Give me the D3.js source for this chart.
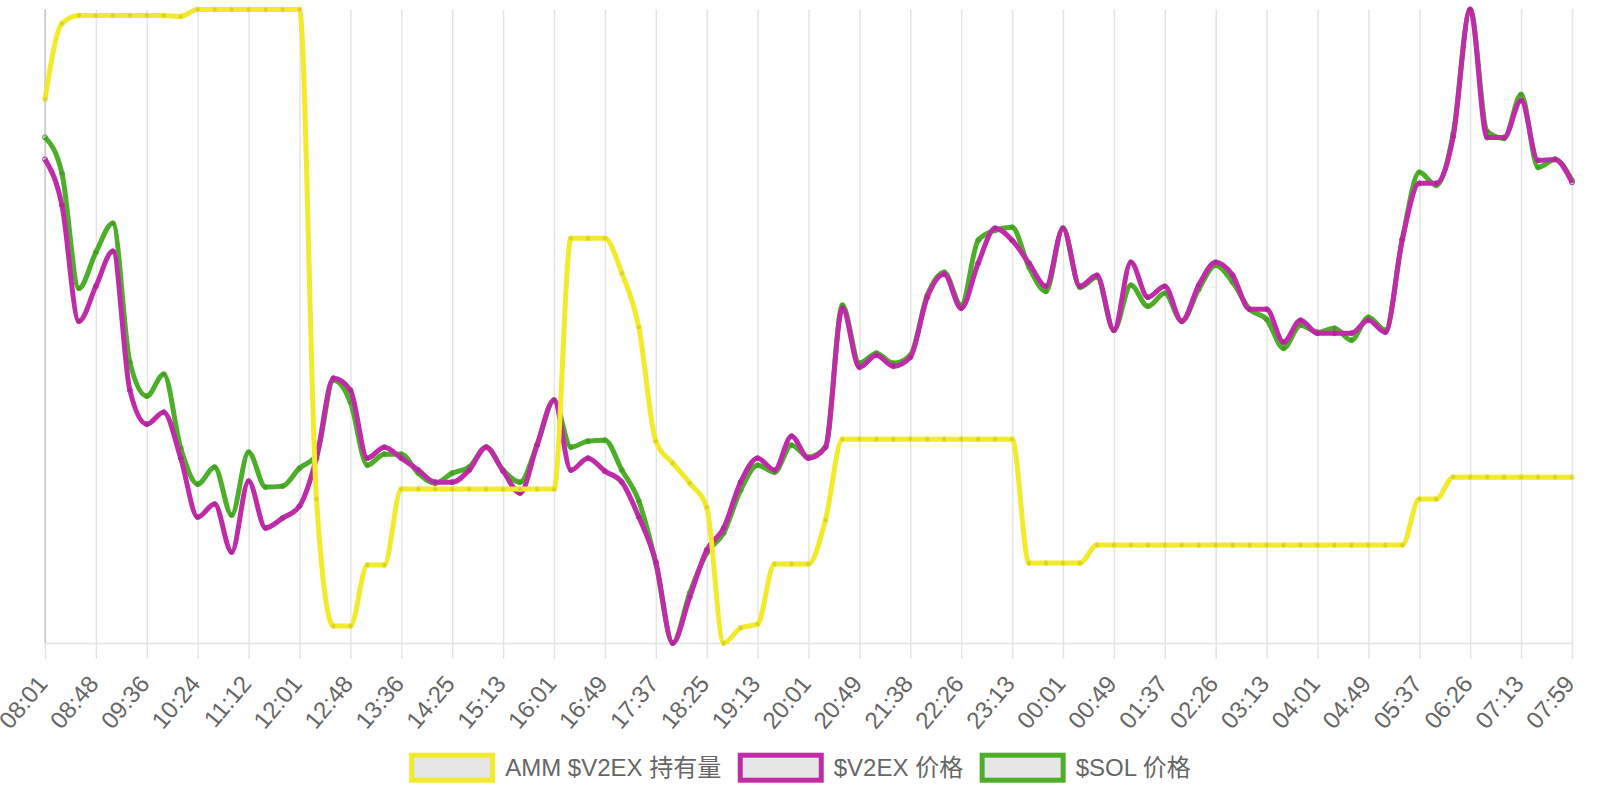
<!DOCTYPE html>
<html><head><meta charset="utf-8">
<script src="https://cdn.jsdelivr.net/npm/d3@7"></script>
<style>
html,body{margin:0;padding:0;background:#fff;}
svg{display:block;font-family:"Liberation Sans",Arial,"Noto Sans CJK SC",sans-serif;}
</style></head><body>
<svg id="chart" width="1600" height="800"></svg>
<script>
// ---- data ----
const tickLabels = ["08:01","08:48","09:36","10:24","11:12","12:01","12:48","13:36","14:25","15:13","16:01","16:49","17:37","18:25","19:13","20:01","20:49","21:38","22:26","23:13","00:01","00:49","01:37","02:26","03:13","04:01","04:49","05:37","06:26","07:13","07:59"];
const seriesNames = ["AMM $V2EX 持有量", "$V2EX 价格", "$SOL 价格"];
const seriesColors = ["#f2ea2b", "#c02ca8", "#4cae29"];

const ammHoldings = [544,620,628,628,628,628,628,628,627,
  634,634,634,634,634,634,634,
  144,17,17,78,78,
  154,154,154,154,154,154,154,154,154,154,
  405,405,405,370,316,202,180,160,136,0,15,19,
  79,79,79,123,
  204,204,204,204,204,204,204,204,204,204,204,
  80,80,80,80,
  98,98,98,98,98,98,98,98,98,98,98,98,98,98,98,98,98,98,98,
  144,144,
  166,166,166,166,166,166,166,166];

const v2exPrice = [484,438,322,357,392,253,219,231,185,126,
  139,91,162,115,125,137,185,265,253,185,
  196,185,173,161,161,173,196,172,150,198,
  243,173,185,172,161,126,81,0,46,93,
  115,161,185,173,207,185,196,335,276,288,
  277,286,346,369,335,380,415,403,380,357,
  415,357,368,313,381,346,357,322,358,381,
  368,334,334,301,323,310,310,310,323,311,
  404,460,460,507,634,506,506,543,483,484,
  461];

const solPrice = [506,470,355,391,420,281,247,269,195,159,
  176,128,191,156,157,175,188,263,241,178,
  189,189,170,160,170,176,196,173,161,198,
  243,196,202,203,173,142,80,0,50,90,
  110,153,178,171,198,186,196,338,280,290,
  280,288,348,371,338,403,413,416,376,352,
  415,356,366,313,358,337,350,322,354,378,
  361,334,324,295,318,311,315,303,326,313,
  404,471,458,510,634,512,505,549,476,484,
  463];

// ---- layout ----
const plotLeft = 45, plotRight = 1572, plotTop = 9.5, plotBottom = 643;
const svg = d3.select("#chart");
const n = ammHoldings.length;
const x = d3.scaleLinear().domain([0, n - 1]).range([plotLeft, plotRight]);
const tickIdx = tickLabels.map((d, i) => i * 3);

const axis = d3.axisBottom(x).tickValues(tickIdx)
  .tickFormat((d, i) => tickLabels[i]).tickSize(16).tickSizeOuter(0);
const gAxis = svg.append("g").attr("transform", `translate(0,${plotBottom})`).call(axis);
gAxis.select(".domain").attr("stroke", "#e4e4e4").attr("stroke-width", 1.5);
gAxis.selectAll(".tick line").attr("stroke", "#e4e4e4").attr("stroke-width", 1.5)
  .attr("y1", -(plotBottom - plotTop)).attr("y2", 16);
gAxis.selectAll(".tick text").attr("fill", "#666").attr("font-size", 24)
  .attr("text-anchor", "end").attr("x", 0).attr("y", 0).attr("dy", "0.35em")
  .attr("transform", "translate(-3,36) rotate(-50)");
svg.append("line").attr("x1", x(0)).attr("x2", x(0)).attr("y1", plotTop).attr("y2", plotBottom)
  .attr("stroke", "#cacaca").attr("stroke-width", 1.5);

// ---- series ----
const allSeries = [ammHoldings, v2exPrice, solPrice];
const drawOrder = [2, 1, 0];
drawOrder.forEach(k => {
  const vals = allSeries[k];
  const y = d3.scaleLinear().domain(d3.extent(vals)).range([plotBottom, plotTop]);
  const line = d3.line().x((d, i) => x(i)).y(d => y(d)).curve(d3.curveMonotoneX);
  const g = svg.append("g");
  g.append("path").attr("d", line(vals)).attr("fill", "none")
    .attr("stroke", seriesColors[k]).attr("stroke-width", 5).attr("stroke-linejoin", "round");
  g.selectAll("circle").data(vals).join("circle")
    .attr("cx", (d, i) => x(i)).attr("cy", d => y(d)).attr("r", 2.5)
    .attr("fill", "rgba(0,0,0,0.1)").attr("stroke", seriesColors[k]).attr("stroke-width", 1);
});

// ---- legend ----
const legend = svg.append("g");
const boxW = 81, boxH = 25, bw = 5, textGap = 10, itemGap = 19, legY = 767.7;
const items = seriesNames.map((name, k) => {
  const g = legend.append("g");
  g.append("rect").attr("width", boxW).attr("height", boxH).attr("y", -boxH / 2)
    .attr("fill", "#e6e6e6").attr("stroke", seriesColors[k]).attr("stroke-width", bw);
  const t = g.append("text").text(name).attr("fill", "#666").attr("font-size", 24)
    .attr("x", boxW + bw / 2 + textGap).attr("dy", "0.35em");
  const w = boxW + bw / 2 + textGap + t.node().getComputedTextLength();
  return {g, w};
});
const total = d3.sum(items, d => d.w) + itemGap * (items.length - 1) + bw / 2;
let cx = 800 - total / 2 + bw / 2;
items.forEach(it => {
  it.g.attr("transform", `translate(${cx},${legY})`);
  cx += it.w + itemGap;
});
</script>
</body></html>
